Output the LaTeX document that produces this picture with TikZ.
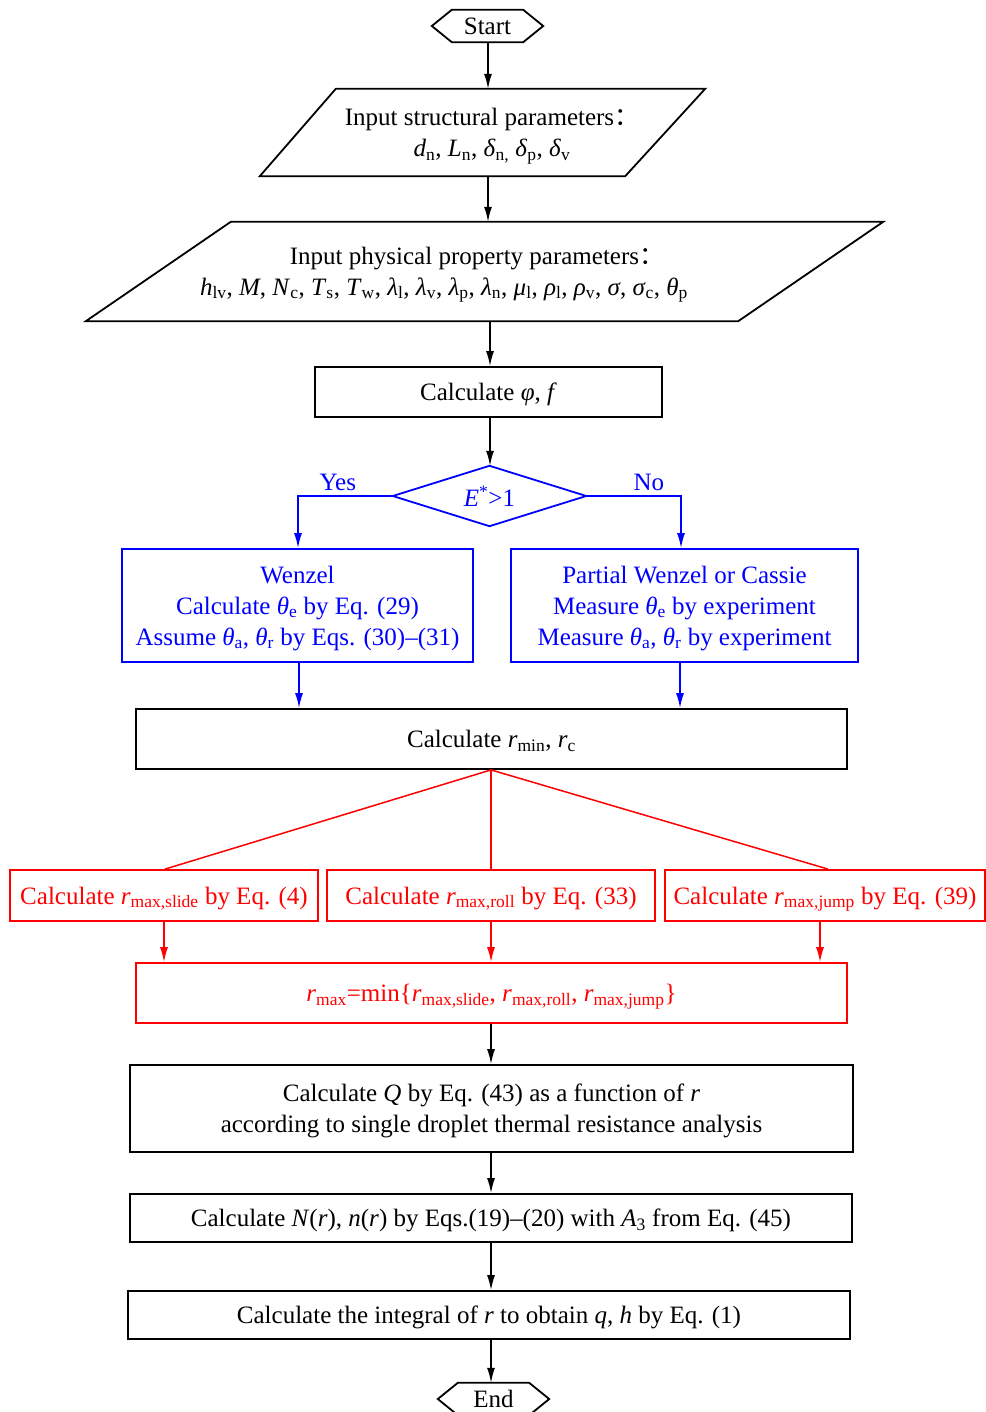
\documentclass[tikz,border=0pt]{standalone}
\usepackage{fontspec}
\setmainfont{Liberation Serif}
\newfontfamily\cjk{Noto Sans CJK SC}
\usetikzlibrary{arrows.meta,calc}
\newcommand\vv[2]{\textit{#1}\textsubscript{#2}}
\newcommand\fwcolon{{\cjk ：}}
\definecolor{myblue}{RGB}{0,0,255}
\definecolor{myred}{RGB}{255,0,0}
\begin{document}
\begin{tikzpicture}[x=1pt,y=-1pt,
  font=\fontsize{25}{31}\selectfont,
  box/.style={draw, line width=1.8pt, inner sep=0pt, align=center, text depth=0pt},
  ghost/.style={inner sep=0pt, align=center, text depth=0pt},
  ar/.style={-{Latex[length=15pt,width=8pt]}, line width=1.5pt},
  ln/.style={line width=1.5pt},
  bl/.style={myblue, text=myblue},
  rd/.style={myred, text=myred}]
\useasboundingbox (0,0) rectangle (985,1412);
% Start
\node[ghost, minimum width=111pt, minimum height=32pt] (st) at (487.5,26) {Start};
\draw[line width=1.8pt] (st.west) -- ($(st.north west)+(20,0)$) -- ($(st.north east)+(-20,0)$) -- (st.east) -- ($(st.south east)+(-20,0)$) -- ($(st.south west)+(20,0)$) -- cycle;
% Parallelogram 1
\node[ghost, minimum width=445pt, minimum height=87pt] (p1) at (482.5,132.5) {};
\draw[line width=1.8pt] (p1.south west) -- ($(p1.north west)+(76,0)$) -- (p1.north east) -- ($(p1.south east)+(-80,0)$) -- cycle;
\node[ghost] (p1t) at (492,132.5) {Input structural parameters\fwcolon\\ \vv{d}{n}, \vv{L}{n}, \vv{δ}{n,} \vv{δ}{p}, \vv{δ}{v}};
% Parallelogram 2
\node[ghost, minimum width=797pt, minimum height=99pt] (p2) at (484.5,271.5) {};
\draw[line width=1.8pt] (p2.south west) -- ($(p2.north west)+(145,0)$) -- (p2.north east) -- ($(p2.south east)+(-145,0)$) -- cycle;
\node[ghost] (p2t) at (444,271) {\hspace*{66pt}Input physical property parameters\fwcolon\\ \vv{h}{lv}, \textit{M}, \vv{N}{c}, \vv{T}{s}, \vv{T}{w}, \vv{λ}{l}, \vv{λ}{v}, \vv{λ}{p}, \vv{λ}{n}, \vv{μ}{l}, \vv{ρ}{l}, \vv{ρ}{v}, \textit{σ}, \vv{σ}{c}, \vv{θ}{p}};
% Calculate phi f
\node[box, minimum width=347pt, minimum height=50pt] (cf) at (488.5,392) {Calculate \textit{φ}, \textit{f}};
% Diamond
\node[ghost, minimum width=193pt, minimum height=60pt, bl] (dm) at (489.5,496) {\textit{E}\textsuperscript{*}>1};
\draw[myblue, line width=1.8pt] (dm.west) -- (dm.north) -- (dm.east) -- (dm.south) -- cycle;
% Blue boxes
\node[box, bl, minimum width=351pt, minimum height=113pt] (lb) at (297.5,605.5) {Wenzel\\ Calculate \vv{θ}{e} by Eq. (29)\\ Assume \vv{θ}{a}, \vv{θ}{r} by Eqs. (30)–(31)};
\node[box, bl, minimum width=347pt, minimum height=113pt] (rb) at (684.5,605.5) {Partial Wenzel or Cassie\\ Measure \vv{θ}{e} by experiment\\ Measure \vv{θ}{a}, \vv{θ}{r} by experiment};
% rmin
\node[box, minimum width=711pt, minimum height=60pt] (rm) at (491.5,739) {Calculate \vv{r}{min}, \vv{r}{c}};
% Red boxes
\node[box, rd, minimum width=308pt, minimum height=51pt] (r1) at (164,895.5) {Calculate \vv{r}{max,slide} by Eq. (4)};
\node[box, rd, minimum width=328pt, minimum height=51pt] (r2) at (491,895.5) {Calculate \vv{r}{max,roll} by Eq. (33)};
\node[box, rd, minimum width=320pt, minimum height=51pt] (r3) at (825,895.5) {Calculate \vv{r}{max,jump} by Eq. (39)};
\node[box, rd, minimum width=711pt, minimum height=60pt] (rx) at (491.5,993) {\vv{r}{max}=min\{\vv{r}{max,slide}, \vv{r}{max,roll}, \vv{r}{max,jump}\}};
% Bottom boxes
\node[box, minimum width=723pt, minimum height=87pt] (q) at (491.5,1108.5) {Calculate \textit{Q} by Eq. (43) as a function of \textit{r}\\ according to single droplet thermal resistance analysis};
\node[box, minimum width=722pt, minimum height=48pt] (n) at (491,1218) {Calculate \textit{N}(\textit{r}), \textit{n}(\textit{r}) by Eqs.(19)–(20) with \vv{A}{3} from Eq. (45)};
\node[box, minimum width=722pt, minimum height=48pt] (ig) at (489,1315) {Calculate the integral of \textit{r} to obtain \textit{q}, \textit{h} by Eq. (1)};
% End
\node[ghost, minimum width=111pt, minimum height=32pt] (en) at (493.5,1399) {End};
\draw[line width=1.8pt] (en.west) -- ($(en.north west)+(20,0)$) -- ($(en.north east)+(-20,0)$) -- (en.east) -- ($(en.south east)+(-20,0)$) -- ($(en.south west)+(20,0)$) -- cycle;
% Connectors black
\draw[ar] (st.south -| 488,0) -- (p1.north -| 488,0);
\draw[ar] (p1.south -| 488,0) -- (p2.north -| 488,0);
\draw[ar] (p2.south -| 490,0) -- (cf.north -| 490,0);
\draw[ar] (cf.south -| 490,0) -- (dm.north -| 490,0);
% Blue connectors
\draw[ar, myblue] (dm.west) -| node[pos=0.29, above, text=myblue, inner sep=5pt] {Yes} (lb.north -| 298,0);
\draw[ar, myblue] (dm.east) -| node[pos=0.33, above, text=myblue, inner sep=5pt] {No} (rb.north -| 681,0);
\draw[ar, myblue] (lb.south -| 299,0) -- (rm.north -| 299,0);
\draw[ar, myblue] (rb.south -| 680,0) -- (rm.north -| 680,0);
% Red connectors
\draw[ln, myred] (rm.south -| 491,0) -- (r1.north -| 165,0);
\draw[ln, myred] (rm.south -| 491,0) -- (r2.north -| 491,0);
\draw[ln, myred] (rm.south -| 491,0) -- (r3.north -| 828,0);
\draw[ar, myred] (r1.south -| 164,0) -- (rx.north -| 164,0);
\draw[ar, myred] (r2.south -| 491,0) -- (rx.north -| 491,0);
\draw[ar, myred] (r3.south -| 820,0) -- (rx.north -| 820,0);
% Bottom black
\draw[ar] (rx.south -| 491,0) -- (q.north -| 491,0);
\draw[ar] (q.south -| 491,0) -- (n.north -| 491,0);
\draw[ar] (n.south -| 491,0) -- (ig.north -| 491,0);
\draw[ar] (ig.south -| 491,0) -- (en.north -| 491,0);
\end{tikzpicture}
\end{document}
